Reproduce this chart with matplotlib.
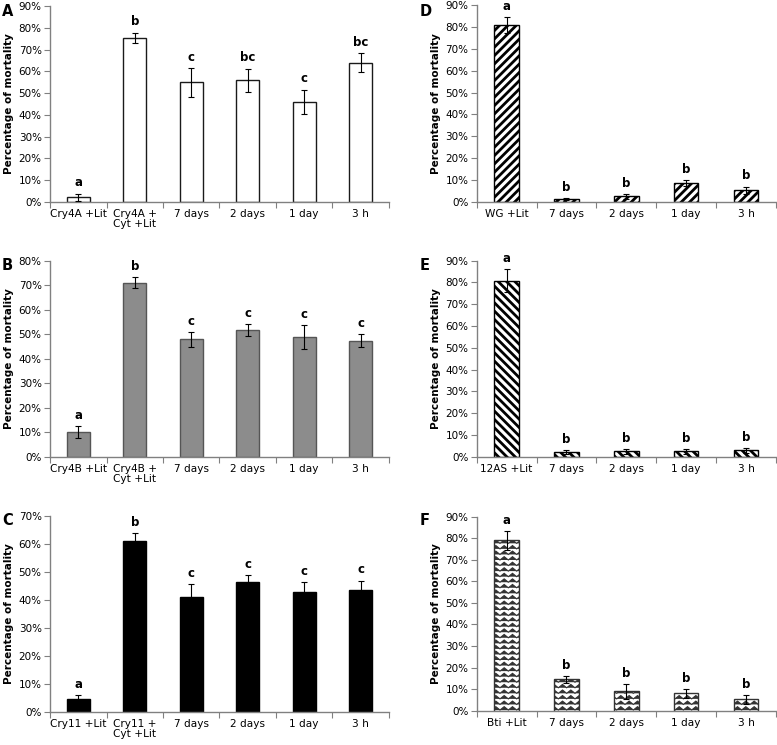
import warnings
import numpy as np
import matplotlib
matplotlib.use("Agg")
import matplotlib.pyplot as plt
import matplotlib.hatch as mhatch
from matplotlib.path import Path
from matplotlib.ticker import FuncFormatter, FixedLocator

warnings.filterwarnings("ignore")

# ---------------- data ----------------
cats_A = ["Cry4A +Lit", "Cry4A +\nCyt +Lit", "7 days", "2 days", "1 day", "3 h"]
vals_A = [2.1, 75.5, 55.0, 56.0, 46.1, 64.0]
errs_A = [1.8, 2.3, 6.6, 5.3, 5.5, 4.3]
lets_A = ["a", "b", "c", "bc", "c", "bc"]

cats_B = ["Cry4B +Lit", "Cry4B +\nCyt +Lit", "7 days", "2 days", "1 day", "3 h"]
vals_B = [10.2, 71.2, 48.0, 51.8, 49.0, 47.5]
errs_B = [2.3, 2.1, 2.9, 2.5, 4.9, 2.6]
lets_B = ["a", "b", "c", "c", "c", "c"]

cats_C = ["Cry11 +Lit", "Cry11 +\nCyt +Lit", "7 days", "2 days", "1 day", "3 h"]
vals_C = [4.4, 61.2, 41.1, 46.3, 42.9, 43.5]
errs_C = [1.4, 2.6, 4.6, 2.7, 3.5, 3.4]
lets_C = ["a", "b", "c", "c", "c", "c"]

cats_D = ["WG +Lit", "7 days", "2 days", "1 day", "3 h"]
vals_D = [80.8, 1.2, 2.4, 8.6, 5.2]
errs_D = [3.7, 0.6, 1.0, 1.2, 1.7]
lets_D = ["a", "b", "b", "b", "b"]

cats_E = ["12AS +Lit", "7 days", "2 days", "1 day", "3 h"]
vals_E = [80.8, 2.0, 2.4, 2.4, 2.9]
errs_E = [5.2, 0.9, 1.0, 1.0, 1.2]
lets_E = ["a", "b", "b", "b", "b"]

cats_F = ["Bti +Lit", "7 days", "2 days", "1 day", "3 h"]
vals_F = [79.0, 14.5, 9.0, 8.0, 5.3]
errs_F = [4.5, 1.6, 3.4, 2.1, 2.0]
lets_F = ["a", "b", "b", "b", "b"]


# ---------------- custom zig-zag hatch ----------------
class ZigZagHatch(mhatch.HatchPatternBase):
    def __init__(self, hatch, density):
        self.rows = int(hatch.count('z') * density)
        self.periods = 12
        self.pts = 2 * self.periods + 1
        self.num_vertices = self.rows * self.pts

    def set_vertices_and_codes(self, vertices, codes):
        if self.rows == 0:
            return
        xs = np.linspace(0.0, 1.0, self.pts)
        amp = 0.3 / self.rows
        offs = np.where(np.arange(self.pts) % 2 == 0, -amp, amp)
        for r in range(self.rows):
            y0 = (r + 0.5) / self.rows
            sl = slice(r * self.pts, (r + 1) * self.pts)
            vertices[sl, 0] = xs
            vertices[sl, 1] = y0 + offs
            codes[sl] = Path.LINETO
            codes[r * self.pts] = Path.MOVETO


mhatch._hatch_types.append(ZigZagHatch)

plt.rcParams['font.family'] = ['DejaVu Sans']
plt.rcParams['hatch.color'] = 'black'

W, H = 777, 745
fig = plt.figure(figsize=(W / 100, H / 100), dpi=100)


def px_axes(x0, x1, y_top, y_bot):
    return fig.add_axes([x0 / W, 1 - y_bot / H, (x1 - x0) / W, (y_bot - y_top) / H])


def panel(ax, cats, vals, errs, lets, ymax, face, edge, hatch=None, hlw=1.0, width=0.41):
    n = len(cats)
    x = np.arange(n)
    v = np.array(vals) / 100.0
    e = np.array(errs) / 100.0
    plt.rcParams['hatch.linewidth'] = hlw
    bars = ax.bar(x, v, width=width, color=face, edgecolor=edge, linewidth=1.0,
                  hatch=hatch, zorder=2)
    for b in bars:
        if hasattr(b, 'set_hatch_linewidth'):
            b.set_hatch_linewidth(hlw)
    ax.errorbar(x, v, yerr=e, fmt='none', ecolor='black', elinewidth=0.8,
                capsize=2.3, capthick=0.8, zorder=3)
    for xi, vi, ei, lt in zip(x, v, e, lets):
        ax.annotate(lt, (xi, vi + ei), xytext=(0, 3), textcoords='offset points',
                    ha='center', va='bottom', fontsize=8.5, fontweight='bold',
                    annotation_clip=False)
    ax.set_xlim(-0.5, n - 0.5)
    ax.set_ylim(0, ymax / 100.0)
    ax.set_yticks(np.arange(0, ymax + 1, 10) / 100.0)
    ax.yaxis.set_major_formatter(FuncFormatter(lambda y, p: f"{y * 100:.0f}%"))
    ax.xaxis.set_major_locator(FixedLocator(np.arange(n + 1) - 0.5))
    ax.xaxis.set_minor_locator(FixedLocator(x))
    ax.set_xticklabels([""] * (n + 1))
    ax.set_xticklabels(cats, minor=True, linespacing=1.0)
    ax.tick_params(axis='x', which='minor', length=0, labelsize=7.6, pad=5)
    ax.tick_params(axis='x', which='major', length=4, color='#808080', direction='out')
    ax.tick_params(axis='y', length=4, color='#808080', labelsize=7.5, pad=2)
    for s in ['top', 'right']:
        ax.spines[s].set_visible(False)
    for s in ['left', 'bottom']:
        ax.spines[s].set_color('#808080')
        ax.spines[s].set_linewidth(1.0)
    ax.set_ylabel("Percentage of mortality", fontsize=7.5, fontweight='bold', labelpad=3)
    return bars


axA = px_axes(50, 389, 6, 202)
panel(axA, cats_A, vals_A, errs_A, lets_A, 90, 'white', '#1a1a1a')
axB = px_axes(50, 389, 261, 457)
panel(axB, cats_B, vals_B, errs_B, lets_B, 80, '#8c8c8c', '#555555')
axC = px_axes(50, 389, 516, 711.7)
panel(axC, cats_C, vals_C, errs_C, lets_C, 70, 'black', 'black')

axD = px_axes(476.7, 776, 5.3, 201.7)
panel(axD, cats_D, vals_D, errs_D, lets_D, 90, 'white', 'black', hatch='////', hlw=2.0)
axE = px_axes(476.7, 776, 260.7, 456.7)
panel(axE, cats_E, vals_E, errs_E, lets_E, 90, 'white', 'black', hatch='\\\\\\\\', hlw=2.0)
axF = px_axes(476.7, 776, 516.7, 710.7)
panel(axF, cats_F, vals_F, errs_F, lets_F, 90, 'white', '#333333', hatch='zzz', hlw=0.8)

for lab, (xp, yp) in {"A": (2, 4), "B": (2, 258), "C": (2, 513),
                      "D": (420, 4), "E": (420, 258), "F": (420, 513)}.items():
    fig.text(xp / W, 1 - yp / H, lab, fontsize=10.5, fontweight='bold', va='top', ha='left')

fig.savefig("out.png", dpi=100)
